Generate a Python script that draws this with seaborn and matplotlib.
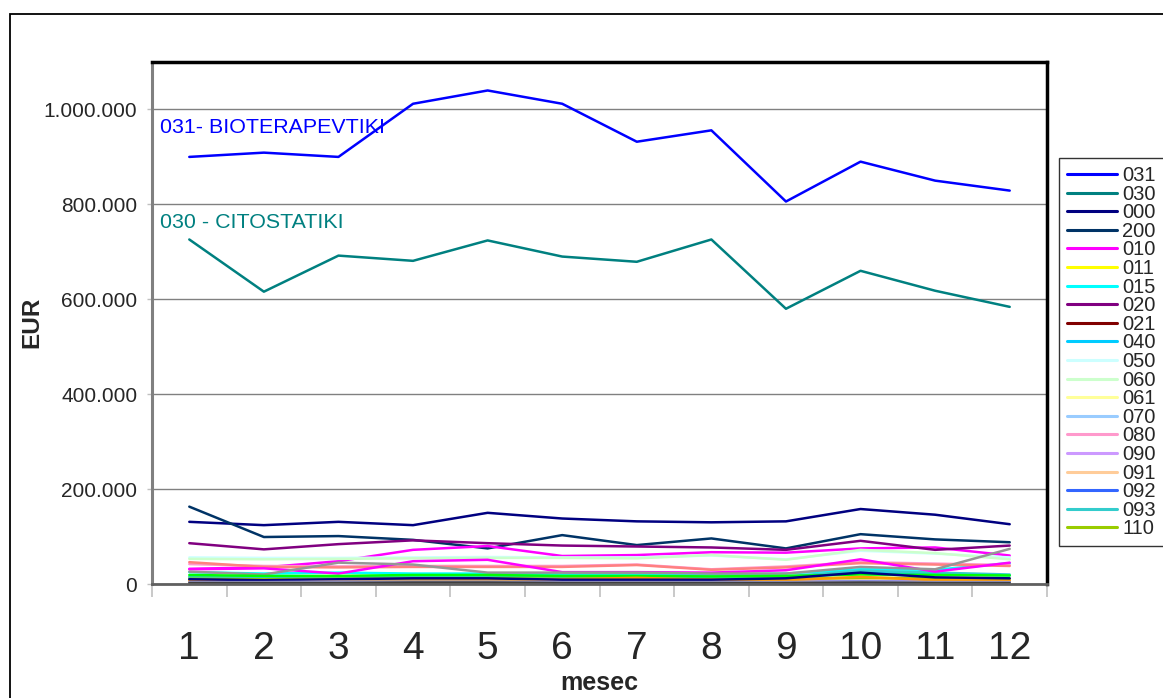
import numpy as np
import pandas as pd
import matplotlib
matplotlib.use("Agg")
import matplotlib.pyplot as plt
from matplotlib.lines import Line2D
from matplotlib.patches import Rectangle
from matplotlib.ticker import FuncFormatter
import seaborn as sns

# === PODATKI (v 1000 EUR) ===

meseci = list(range(1, 13))

s031 = [900, 909, 900, 1012, 1040, 1012, 932, 956, 806, 890, 850, 829]
s030 = [726, 616, 692, 681, 724, 690, 679, 726, 580, 660, 618, 584]
s000 = [131, 124, 131, 124, 150, 138, 132, 130, 132, 158, 146, 126]
s200 = [163, 99, 101, 93, 75, 103, 82, 96, 75, 105, 94, 88]
s010 = [32, 35, 48, 72, 80, 59, 61, 67, 66, 75, 77, 60]
s011 = [8, 7, 8, 8, 9, 8, 8, 8, 7, 9, 8, 8]
s015 = [25, 22, 24, 22, 22, 21, 21, 20, 22, 31, 30, 44]
s020 = [86, 73, 84, 92, 86, 81, 79, 77, 72, 91, 72, 81]
s021 = [5, 5, 6, 6, 6, 5, 5, 5, 6, 7, 6, 6]
s040 = [14, 13, 14, 15, 15, 14, 13, 13, 14, 25, 22, 18]
s050 = [56, 55, 55, 56, 57, 56, 56, 60, 52, 70, 64, 56]
s060 = [53, 52, 53, 54, 55, 55, 54, 61, 51, 72, 65, 52]
s061 = [12, 11, 12, 12, 13, 12, 12, 11, 12, 14, 13, 12]
s070 = [10, 9, 10, 10, 11, 10, 10, 9, 10, 12, 11, 10]
s080 = [42, 38, 37, 38, 38, 38, 41, 31, 37, 46, 43, 40]
s090 = [6, 6, 7, 7, 7, 6, 6, 6, 7, 8, 7, 7]
s091 = [9, 8, 9, 9, 10, 9, 9, 8, 9, 11, 10, 9]
s092 = [3, 3, 4, 4, 4, 3, 3, 3, 4, 5, 4, 4]
s093 = [15, 14, 15, 16, 16, 15, 15, 15, 16, 28, 24, 20]
s110 = [11, 10, 11, 11, 12, 11, 11, 10, 11, 13, 12, 11]
# serije, ki jih legenda ne pokaže vec
s120 = [46, 36, 35, 36, 36, 36, 40, 30, 35, 44, 41, 38]
s121 = [31, 33, 22, 48, 51, 25, 25, 24, 29, 52, 26, 45]
s130 = [26, 20, 45, 41, 24, 24, 24, 22, 22, 36, 31, 74]
s140 = [19, 17, 17, 19, 19, 17, 17, 16, 17, 20, 19, 18]
s150 = [6, 5, 6, 7, 8, 10, 13, 9, 8, 15, 8, 7]
s160 = [10, 8, 10, 12, 12, 9, 9, 9, 12, 24, 14, 12]
s170 = [4, 4, 5, 5, 5, 4, 4, 4, 4, 5, 4, 4]
s180 = [2, 2, 2, 3, 3, 2, 2, 2, 2, 3, 2, 2]

sifre = ["031", "030", "000", "200", "010", "011", "015", "020", "021", "040",
         "050", "060", "061", "070", "080", "090", "091", "092", "093", "110",
         "120", "121", "130", "140", "150", "160", "170", "180"]
serije = [s031, s030, s000, s200, s010, s011, s015, s020, s021, s040,
          s050, s060, s061, s070, s080, s090, s091, s092, s093, s110,
          s120, s121, s130, s140, s150, s160, s170, s180]
barve = ["#0000FF", "#008080", "#000080", "#003366", "#FF00FF", "#FFFF00", "#00FFFF",
         "#800080", "#800000", "#00CCFF", "#CCFFFF", "#CCFFCC", "#FFFF99", "#99CCFF",
         "#FF99CC", "#CC99FF", "#FFCC99", "#3366FF", "#33CCCC", "#99CC00",
         "#FF8080", "#FF00FF", "#969696", "#00FF00", "#FF9900", "#000080",
         "#9999CC", "#404040"]
v_legendi = 20

rows = []
for s, vals in zip(sifre, serije):
    for m, v in zip(meseci, vals):
        rows.append({"mesec": m, "EUR": v * 1000, "sifra": s})
df = pd.DataFrame(rows)
paleta = dict(zip(sifre, barve))

# === GRAF ===

sns.set_theme(style="white")
plt.rcParams["font.family"] = ["Liberation Sans", "DejaVu Sans"]

W, H = 1163, 698
fig = plt.figure(figsize=(W / 100, H / 100), dpi=100)
ax = fig.add_axes([152 / W, 1 - 584 / H, 895 / W, 522 / H])

sns.lineplot(data=df, x="mesec", y="EUR", hue="sifra", hue_order=sifre,
             palette=paleta, linewidth=1.8, errorbar=None, legend=False, ax=ax)

ax.set_xlim(0.5, 12.5)
ax.set_ylim(0, 1100000)
ax.set_yticks(np.arange(0, 1000001, 200000))
ax.yaxis.set_major_formatter(FuncFormatter(lambda v, p: f"{int(v):,}".replace(",", ".")))
ax.set_xticks(meseci)
ax.set_xticks(np.arange(0.5, 13, 1), minor=True)
ax.tick_params(axis="x", which="major", bottom=True, length=0, labelsize=28, pad=34)
ax.tick_params(axis="x", which="minor", bottom=True, length=9.5, width=1.2,
               color="#c0c0c0", direction="out")
ax.tick_params(axis="y", left=True, length=3.6, width=1, color="#c0c0c0",
               labelsize=15, pad=7)
ax.set_xlabel("")
ax.set_ylabel("")

ax.grid(axis="y", color="#808080", linewidth=1)
ax.grid(axis="x", visible=False)
ax.spines["left"].set_color("#808080")
ax.spines["left"].set_linewidth(2.2)
ax.spines["bottom"].set_color("#606060")
ax.spines["bottom"].set_linewidth(2)
for sp in ["top", "right"]:
    ax.spines[sp].set_color("black")
    ax.spines[sp].set_linewidth(2.5)

trans = ax.get_yaxis_transform()
ax.text(0.009, 962000, "031- BIOTERAPEVTIKI", transform=trans, color="#0000FF",
        fontsize=15.4, va="center", zorder=1)
ax.text(0.009, 762000, "030 - CITOSTATIKI", transform=trans, color="#008080",
        fontsize=15.4, va="center", zorder=1)

fig.text(32 / W, 1 - 322 / H, "EUR", rotation=90, ha="center", va="center",
         fontsize=17.5, fontweight="bold")
fig.text(599.5 / W, 1 - 690 / H, "mesec", ha="center", va="baseline",
         fontsize=18, fontweight="bold")

rocaji = [Line2D([], [], color=c, linewidth=2.2) for c in barve[:v_legendi]]
leg = ax.legend(rocaji, sifre[:v_legendi], loc="upper left",
                bbox_to_anchor=(1059 / W, 1 - 158 / H), bbox_transform=fig.transFigure,
                borderaxespad=0, fontsize=14.5, labelspacing=-0.02, handlelength=2.5,
                handletextpad=0.25, borderpad=0.4, fancybox=False, frameon=True)
leg.get_frame().set_edgecolor("black")
leg.get_frame().set_linewidth(1)

fig.patches.append(Rectangle((10 / W, -0.1), 1.2, 1 - 14 / H + 0.1, transform=fig.transFigure,
                             fill=False, edgecolor="black", linewidth=1.3))

fig.savefig("out.png", dpi=100)
